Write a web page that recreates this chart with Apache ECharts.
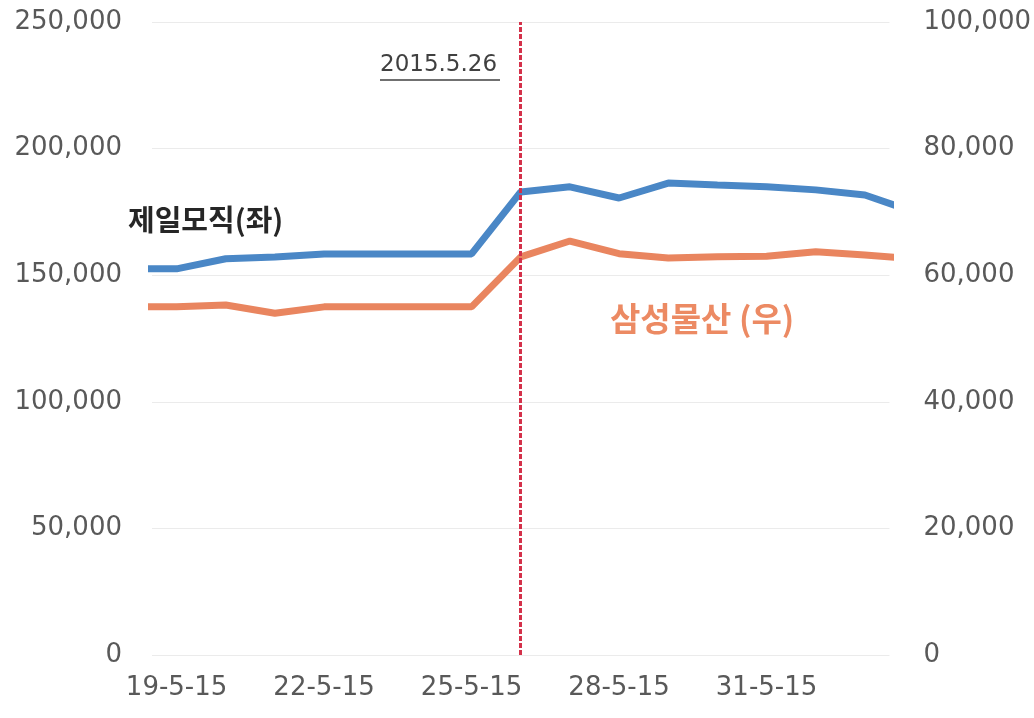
<!DOCTYPE html>
<html>
<head>
<meta charset="utf-8" />
<title>제일모직 / 삼성물산</title>
<script src="https://cdn.jsdelivr.net/npm/echarts@6/dist/echarts.min.js"></script>
<style>
  html, body { margin: 0; padding: 0; background: #fff; }
  #main { width: 1034px; height: 718px; }
</style>
</head>
<body>
<div id="main"></div>
<script type="text/javascript">
    // daily closes (weekend / holiday repeat last close)
    var dates = ['2015-05-18', '2015-05-19', '2015-05-20', '2015-05-21', '2015-05-22',
                 '2015-05-23', '2015-05-24', '2015-05-25', '2015-05-26', '2015-05-27',
                 '2015-05-28', '2015-05-29', '2015-05-30', '2015-05-31', '2015-06-01',
                 '2015-06-02', '2015-06-03'];
    var cheil = [152500, 152500, 156500, 157200, 158400,
                 158400, 158400, 158400, 182900, 184900,
                 180500, 186400, 185600, 184900, 183700,
                 181700, 175000];
    var samsung = [55000, 55000, 55300, 54000, 55000,
                   55000, 55000, 55000, 62900, 65400,
                   63400, 62700, 62900, 63000, 63700,
                   63200, 62600];
    var xLabelDates = ['2015-05-19', '2015-05-22', '2015-05-25', '2015-05-28', '2015-05-31'];
    var eventDate = '2015-05-26';
    var leftMax = 250000, leftStep = 50000;
    var rightMax = 100000, rightStep = 20000;

    var DAY = 86400000;
    function toTime(s) {
        var p = s.split('-');
        return Date.UTC(+p[0], +p[1] - 1, +p[2]);
    }
    var t0 = toTime(dates[0]);
    // x = days since first date
    function dayNo(s) { return Math.round((toTime(s) - t0) / DAY); }
    function fmtDate(v) {
        var d = new Date(t0 + Math.round(v) * DAY);
        return d.getUTCDate() + '-' + (d.getUTCMonth() + 1) + '-' + String(d.getUTCFullYear()).slice(2);
    }
    function fmtNum(v) {
        return Number(v).toLocaleString('en-US');
    }

    var cheilData = dates.map(function (d, i) { return [dayNo(d), cheil[i]]; });
    var samsungData = dates.map(function (d, i) { return [dayNo(d), samsung[i]]; });

    var axisFont = { fontFamily: 'DejaVu Sans', fontSize: 26, color: '#595959' };

    var myChart = echarts.init(document.getElementById('main'));
    var option = {
        animation: false,
        backgroundColor: '#fff',
        grid: { left: 152, right: 144, top: 22, bottom: 63 },
        xAxis: {
            type: 'value',
            min: 0.5,
            max: dayNo(dates[dates.length - 2]) + 0.5,
            axisLine: { show: false },
            axisTick: { show: false },
            splitLine: { show: false },
            axisLabel: Object.assign({
                customValues: xLabelDates.map(dayNo),
                formatter: fmtDate,
                margin: 20,
                showMinLabel: true,
                showMaxLabel: true,
                hideOverlap: false
            }, axisFont)
        },
        yAxis: [
            {
                type: 'value',
                min: 0, max: leftMax, interval: leftStep,
                axisLine: { show: false },
                axisTick: { show: false },
                axisLabel: Object.assign({ formatter: fmtNum, margin: 30 }, axisFont),
                splitLine: { lineStyle: { color: '#ebebeb', width: 1 } }
            },
            {
                type: 'value',
                min: 0, max: rightMax, interval: rightStep,
                axisLine: { show: false },
                axisTick: { show: false },
                axisLabel: Object.assign({ formatter: fmtNum, margin: 34 }, axisFont),
                splitLine: { show: false }
            }
        ],
        graphic: [
            {
                type: 'text', left: 128, top: 205,
                style: { text: '제일모직(좌)', font: 'bold 29px "Noto Sans CJK KR"', fill: '#262626' }
            },
            {
                type: 'text', left: 610, top: 302,
                style: { text: '삼성물산 (우)', font: 'bold 33px "Noto Sans CJK KR"', fill: '#ec8a63' }
            },
            {
                type: 'text', left: 380, top: 54,
                style: { text: '2015.5.26', font: '23px "DejaVu Sans"', fill: '#404040' }
            },
            {
                type: 'line',
                shape: { x1: 380, y1: 80, x2: 500, y2: 80 },
                style: { stroke: '#404040', lineWidth: 1.5 }
            }
        ],
        series: [
            {
                name: '제일모직',
                type: 'line',
                yAxisIndex: 0,
                data: cheilData,
                symbol: 'none',
                lineStyle: { color: '#4a87c6', width: 7 },
                itemStyle: { color: '#4a87c6' },
                markLine: {
                    silent: true,
                    symbol: ['none', 'none'],
                    label: { show: false },
                    lineStyle: { color: '#d4314a', type: [5, 2], width: 3 },
                    data: [{ xAxis: dayNo(eventDate) }]
                }
            },
            {
                name: '삼성물산',
                type: 'line',
                yAxisIndex: 1,
                data: samsungData,
                symbol: 'none',
                lineStyle: { color: '#e9855f', width: 7 },
                itemStyle: { color: '#e9855f' }
            }
        ]
    };
    myChart.setOption(option);
</script>
</body>
</html>
